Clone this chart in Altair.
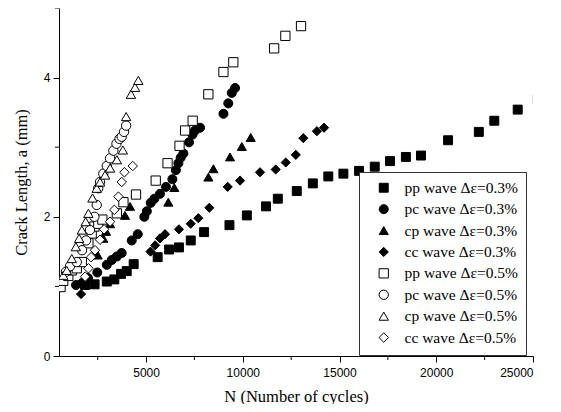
import altair as alt
import pandas as pd

series_names = [
    "pp wave Δε=0.3%", "pc wave Δε=0.3%", "cp wave Δε=0.3%", "cc wave Δε=0.3%",
    "pp wave Δε=0.5%", "pc wave Δε=0.5%", "cp wave Δε=0.5%", "cc wave Δε=0.5%",
]

pp03_x = [1850, 2340, 2970, 3360, 3710, 4000, 4360, 5600, 6190, 6700, 7310, 8000, 9310, 10210, 11200, 11810,
          12790, 13620, 14420, 15200, 16010, 16820, 17610, 18430, 19210, 20610, 22200, 23000, 24210, 25250]
pp03_y = [1.02, 1.03, 1.07, 1.10, 1.18, 1.22, 1.32, 1.42, 1.53, 1.56, 1.66, 1.78, 1.88, 2.02, 2.15, 2.26,
          2.37, 2.48, 2.58, 2.62, 2.66, 2.72, 2.80, 2.86, 2.88, 3.10, 3.22, 3.38, 3.54, 3.69]

pc03_x = [1380, 1700, 2000, 2480, 2970, 3230, 3490, 3740, 4260, 4570, 4910, 5040, 5240, 5430, 5720, 6030,
          6360, 6540, 6670, 6790, 6930, 7220, 7400, 7530, 7790, 9000, 9250, 9430, 9600]
pc03_y = [1.02, 1.05, 1.12, 1.20, 1.31, 1.38, 1.43, 1.48, 1.66, 1.75, 2.00, 2.08, 2.20, 2.26, 2.33, 2.43,
          2.54, 2.67, 2.77, 2.85, 2.91, 3.07, 3.18, 3.24, 3.28, 3.48, 3.63, 3.78, 3.85]

cp03_x = [2500, 2790, 2930, 3140, 3910, 4170, 6150, 6460, 8220, 8480, 9340, 9950, 10410]
cp03_y = [1.45, 1.69, 1.79, 1.90, 2.02, 2.15, 2.21, 2.42, 2.57, 2.69, 2.86, 3.01, 3.14]

cc03_x = [1640, 5230, 5470, 5720, 5980, 6700, 7310, 7700, 8270, 9220, 9860, 10890, 11700, 12220, 12740,
          13130, 13830, 14200]
cc03_y = [0.89, 1.50, 1.59, 1.69, 1.75, 1.82, 1.90, 1.98, 2.13, 2.43, 2.52, 2.64, 2.68, 2.78, 2.89,
          3.13, 3.23, 3.28]

pp05_x = [580, 720, 980, 1160, 1420, 1680, 2020, 2190, 2330, 2530, 2740, 3490, 3830, 4480, 5500, 6110,
          6730, 7020, 7410, 8220, 9000, 9510, 11620, 12200, 13010]
pp05_y = [0.99, 1.08, 1.15, 1.23, 1.26, 1.35, 1.62, 1.76, 1.86, 1.90, 1.96, 2.05, 2.21, 2.32, 2.52, 2.77,
          3.02, 3.24, 3.38, 3.76, 4.08, 4.22, 4.42, 4.60, 4.74]

pc05_x = [860, 1070, 1420, 1690, 1900, 2100, 2330, 2450, 2530, 2620, 2790, 2970, 3140, 3310, 3470, 3630,
          3740, 3860, 3970]
pc05_y = [1.21, 1.29, 1.35, 1.52, 1.66, 1.81, 2.00, 2.17, 2.41, 2.50, 2.62, 2.73, 2.84, 2.95, 3.05, 3.12,
          3.15, 3.22, 3.31]

cp05_x = [720, 900, 1160, 1370, 1540, 1680, 1880, 2020, 2230, 2450, 2620, 2880, 3140, 3490, 3800, 3970,
          4220, 4430, 4600]
cp05_y = [1.16, 1.23, 1.40, 1.57, 1.69, 1.81, 1.93, 2.05, 2.27, 2.41, 2.50, 2.60, 2.70, 2.82, 2.96, 3.44,
          3.76, 3.86, 3.96]

cc05_x = [1850, 2020, 2160, 2360, 2620, 2830, 3140, 3360, 3570, 3740, 3880, 4310]
cc05_y = [1.14, 1.26, 1.42, 1.52, 1.67, 1.82, 1.93, 2.10, 2.29, 2.50, 2.64, 2.73]

x_major = [5000, 10000, 15000, 20000, 25000]
x_minor = [2500, 7500, 12500, 17500, 22500]
y_major = [0, 2, 4]
y_minor = [1, 3, 5]

all_x = [pp03_x, pc03_x, cp03_x, cc03_x, pp05_x, pc05_x, cp05_x, cc05_x]
all_y = [pp03_y, pc03_y, cp03_y, cc03_y, pp05_y, pc05_y, cp05_y, cc05_y]

rows = []
for name, xs, ys in zip(series_names, all_x, all_y):
    for xv, yv in zip(xs, ys):
        rows.append({"series": name, "N": xv, "a": yv})
df = pd.DataFrame(rows)

shapes = ["square", "circle", "triangle-up", "diamond"] * 2
fills = ["black"] * 4 + ["white"] * 4
strokes = ["black"] * 8
sizes = [80, 90, 115, 105] * 2

W, H = 474, 348
xscale = alt.Scale(domain=[500, 25000], nice=False, zero=False)
yscale = alt.Scale(domain=[0, 5], nice=False, zero=False)

legend = alt.Legend(
    title=None, orient="none", legendX=300, legendY=164,
    strokeColor="#333", fillColor="white", padding=8,
    symbolOffset=9, labelOffset=13, rowPadding=4.4,
    labelFont="Liberation Serif", labelFontSize=15.5, labelColor="black",
    labelLimit=0, symbolStrokeColor="black", symbolStrokeWidth=1,
)

points = alt.Chart(df).mark_point(
    filled=True, strokeWidth=1, opacity=1, clip=True
).encode(
    x=alt.X("N:Q", scale=xscale,
            axis=alt.Axis(values=x_major, title="N (Number of cycles)", format="d", titlePadding=10,
                          labelPadding=5)),
    y=alt.Y("a:Q", scale=yscale,
            axis=alt.Axis(values=y_major, title="Crack Length, a (mm)", format="d", titlePadding=14,
                          labelPadding=3)),
    shape=alt.Shape("series:N", scale=alt.Scale(domain=series_names, range=shapes), legend=legend),
    fill=alt.Fill("series:N", scale=alt.Scale(domain=series_names, range=fills), legend=legend),
    stroke=alt.Stroke("series:N", scale=alt.Scale(domain=series_names, range=strokes), legend=legend),
    size=alt.Size("series:N", scale=alt.Scale(domain=series_names, range=sizes), legend=legend),
)

xminor = alt.Chart(pd.DataFrame({"N": x_minor})).mark_rule(color="black", strokeWidth=1).encode(
    x=alt.X("N:Q", scale=xscale), y=alt.value(H), y2=alt.value(H + 4)
)
yminor = alt.Chart(pd.DataFrame({"a": y_minor})).mark_rule(color="black", strokeWidth=1).encode(
    y=alt.Y("a:Q", scale=yscale), x=alt.value(0), x2=alt.value(-4)
)

chart = alt.layer(xminor, yminor, points).properties(
    width=W, height=H,
    autosize=alt.AutoSizeParams(type="none"),
    padding={"left": 51, "top": 0, "right": 20, "bottom": 48},
).configure_view(stroke=None).configure_axis(
    grid=False, labelFont="Liberation Sans", labelFontSize=12, labelColor="black",
    titleFont="Liberation Serif", titleFontSize=16.5, titleFontWeight="normal", titleColor="black",
    tickColor="black", domainColor="black", tickSize=6,
)

chart.save("out.html", embed_options={"renderer": "svg", "actions": False})
